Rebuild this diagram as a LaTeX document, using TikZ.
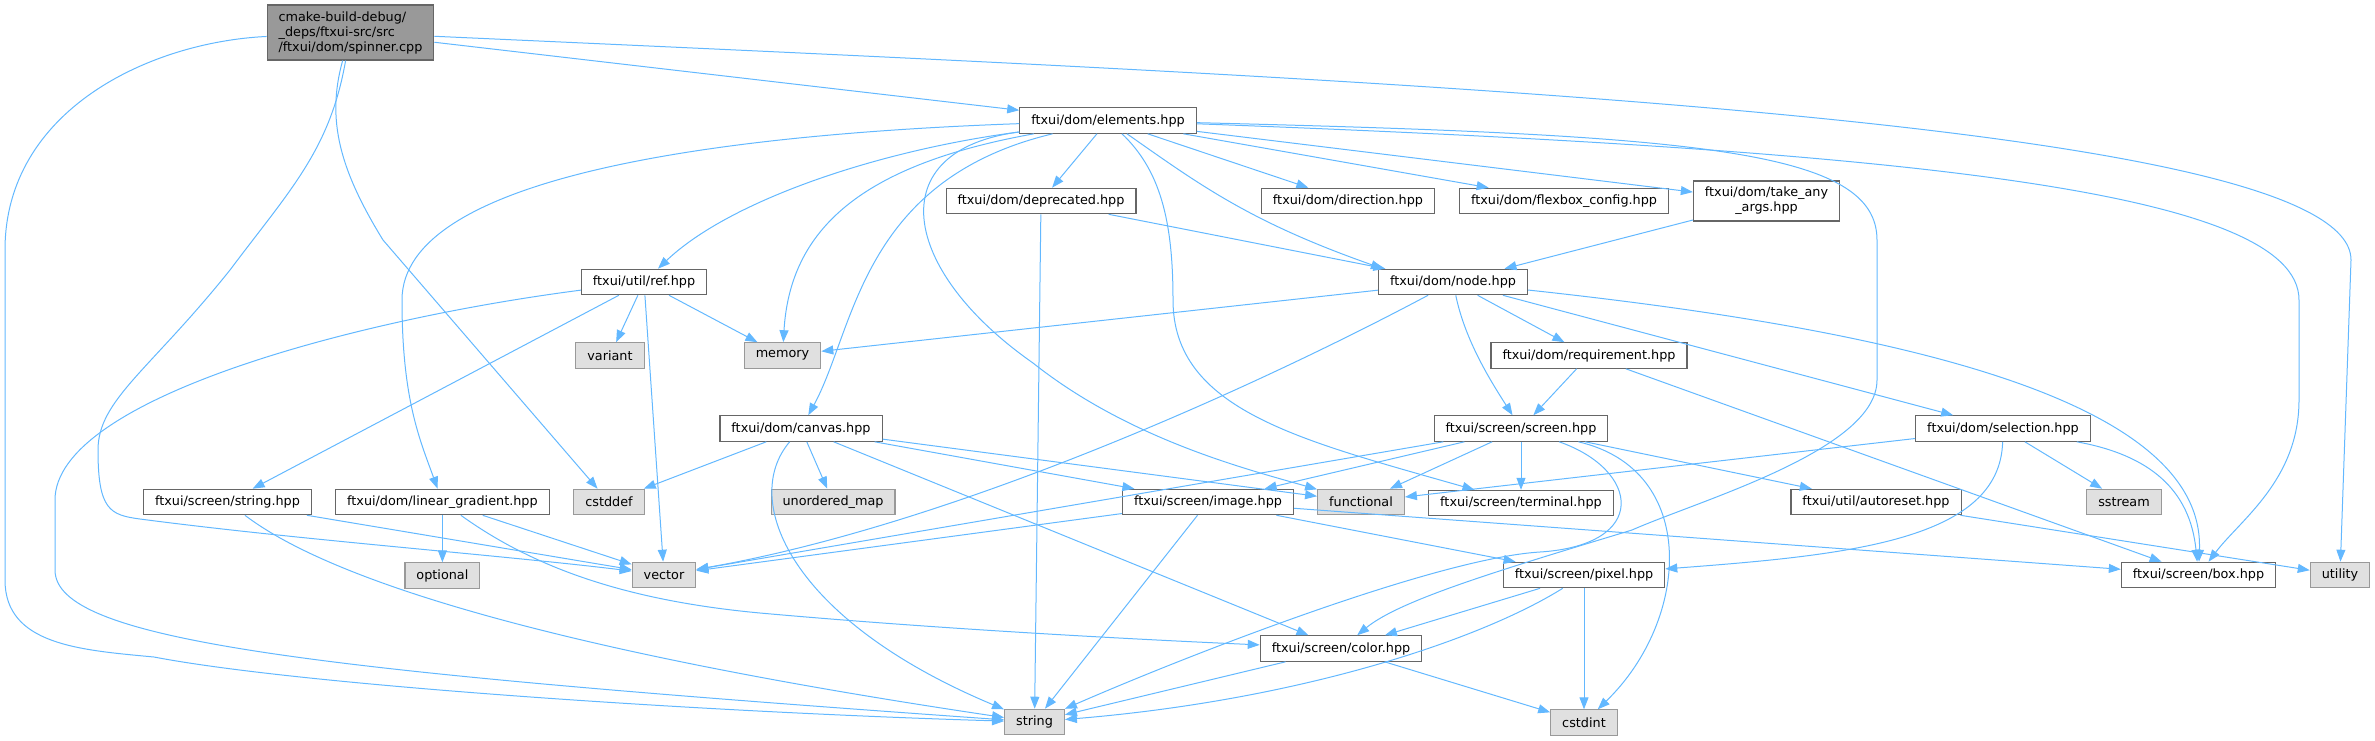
\documentclass[tikz,border=0pt]{standalone}
\usepackage{fontspec}
\usepackage{tikz}
\usetikzlibrary{arrows.meta,positioning}
\newfontfamily\dejavu{DejaVu Sans}
\definecolor{edgeblue}{HTML}{63B8FF}
\definecolor{hdrline}{HTML}{666666}
\definecolor{sysline}{HTML}{999999}
\definecolor{sysfill}{HTML}{E0E0E0}
\definecolor{srcfill}{HTML}{999999}

\begin{document}
\begin{tikzpicture}[
x=1pt, y=-1pt,
hdr/.style={draw=hdrline, fill=white, line width=1.1pt, inner xsep=11.5pt, inner ysep=2pt, minimum height=25.5pt, align=center, font=\dejavu\fontsize{12.8}{15}\selectfont},
sys/.style={hdr, draw=sysline, fill=sysfill},
src/.style={hdr, fill=srcfill, align=left, minimum height=55pt},
arr/.style={-{Triangle[length=12pt, width=9pt]}, draw=edgeblue, line width=1pt}
]
\useasboundingbox (0,0) rectangle (2375,740);

\node[src] (spinner) at (350.5,32.5) {cmake-build-debug/\\\_deps/ftxui-src/src\\/ftxui/dom/spinner.cpp};
\node[hdr] (elements) at (1108,120.5) {ftxui/dom/elements.hpp};

\node[hdr] (deprecated) at (1041,201) {ftxui/dom/deprecated.hpp};
\node[hdr] (direction) at (1348,201) {ftxui/dom/direction.hpp};
\node[hdr] (flexbox) at (1564,201) {ftxui/dom/flexbox\_config.hpp};
\node[hdr, minimum height=40pt] (takeany) at (1766.5,201) {ftxui/dom/take\_any\\\_args.hpp};

\node[hdr] (ref) at (644,282) {ftxui/util/ref.hpp};
\node[hdr] (domnode) at (1453,282) {ftxui/dom/node.hpp};

\node[sys] (variant) at (610,355.5) {variant};
\node[sys] (memory) at (782.5,355.5) {memory};
\node[hdr] (requirement) at (1589,355.5) {ftxui/dom/requirement.hpp};

\node[hdr] (canvas) at (801,428.5) {ftxui/dom/canvas.hpp};
\node[hdr] (screen) at (1521,428.5) {ftxui/screen/screen.hpp};
\node[hdr] (selection) at (2003,428.5) {ftxui/dom/selection.hpp};

\node[hdr] (strh) at (227.5,502) {ftxui/screen/string.hpp};
\node[hdr] (lingrad) at (442.4,502) {ftxui/dom/linear\_gradient.hpp};
\node[sys] (cstddef) at (609,502) {cstddef};
\node[sys] (umap) at (833,502) {unordered\_map};
\node[hdr] (image) at (1208,502) {ftxui/screen/image.hpp};
\node[sys] (functional) at (1361,502) {functional};
\node[hdr, below=48pt of screen] (terminal) {ftxui/screen/terminal.hpp};
\node[hdr] (autoreset) at (1876,502) {ftxui/util/autoreset.hpp};
\node[sys] (sstream) at (2124,502) {sstream};

\node[sys, below=47pt of lingrad] (optional) {optional};
\node[sys] (vector) at (664,575) {vector};
\node[hdr] (pixel) at (1584,575) {ftxui/screen/pixel.hpp};
\node[hdr] (box) at (2198.5,575) {ftxui/screen/box.hpp};
\node[sys] (utility) at (2340,575) {utility};

\node[hdr] (color) at (1341,648.5) {ftxui/screen/color.hpp};
\node[sys] (string) at (1034.5,722) {string};
\node[sys, below=121pt of pixel] (cstdint) {cstdint};

\draw[arr] (spinner) -- (elements);
\draw[arr] (spinner) .. controls (1400,80) and (2351,120) .. (2351,260) -- (utility);
\draw[arr] (spinner) .. controls (150,42) and (5,110) .. (5,250) -- (5,580) .. controls (5,645) and (80,650) .. (154,657) .. controls (300,685) and (700,712) .. (string);
\draw[arr] (spinner) .. controls (330,150) and (290,190) .. (230,270) .. controls (150,370) and (98,400) .. (98,450) .. controls (98,510) and (110,515) .. (140,519) .. controls (300,540) and (500,555) .. (vector);
\draw[arr] (spinner) .. controls (326,120) and (340,170) .. (383,240) -- (cstddef);

\draw[arr] (elements) .. controls (880,150) and (730,200) .. (ref);
\draw[arr] (elements) .. controls (860,165) and (790,230) .. (memory);
\draw[arr] (elements) .. controls (860,180) and (855,330) .. (canvas);
\draw[arr] (elements) .. controls (700,135) and (402,180) .. (402,300) .. controls (402,400) and (420,440) .. (lingrad);
\draw[arr] (elements) -- (deprecated);
\draw[arr] (elements) .. controls (880,150) and (900,270) .. (1033,363) .. controls (1130,440) and (1250,470) .. (functional);
\draw[arr] (elements) -- (direction);
\draw[arr] (elements) -- (flexbox);
\draw[arr] (elements) -- (takeany);
\draw[arr] (elements) .. controls (1200,185) and (1250,222) .. ([xshift=5pt]domnode.north west);
\draw[arr] (elements) .. controls (1160,170) and (1173,220) .. (1173,300) .. controls (1173,410) and (1300,440) .. (terminal);
\draw[arr] (elements) .. controls (1900,150) and (2299,190) .. (2299,300) -- (2299,400) .. controls (2299,480) and (2240,520) .. (box);
\draw[arr] (elements) .. controls (1700,135) and (1877,150) .. (1877,240) -- (1877,380) .. controls (1877,450) and (1700,500) .. (1632,530) .. controls (1500,570) and (1400,600) .. (color);

\draw[arr] (deprecated) -- (domnode);
\draw[arr] (deprecated) -- (string);
\draw[arr] (takeany) -- (domnode);

\draw[arr] (ref) -- (variant);
\draw[arr] (ref) -- (memory);
\draw[arr] (ref) -- (vector);
\draw[arr] (ref) -- (strh);
\draw[arr] (ref) .. controls (350,320) and (55,400) .. (55,500) -- (55,570) .. controls (55,640) and (300,670) .. (string);

\draw[arr] (domnode) -- (memory);
\draw[arr] (domnode) .. controls (1250,390) and (950,525) .. (vector);
\draw[arr] (domnode) -- (requirement);
\draw[arr] (domnode) -- (selection);
\draw[arr] (domnode) .. controls (1900,330) and (2205,400) .. (box);
\draw[arr] (domnode) .. controls (1465,340) and (1490,380) .. (screen);

\draw[arr] (requirement) -- (screen);
\draw[arr] (requirement) -- (box);

\draw[arr] (canvas) -- (cstddef);
\draw[arr] (canvas) .. controls (740,500) and (790,620) .. (string);
\draw[arr] (canvas) -- (umap);
\draw[arr] (canvas) -- (color);
\draw[arr] (canvas) -- (image);
\draw[arr] (canvas) -- (functional);

\draw[arr] (screen) -- (vector);
\draw[arr] (screen) -- (image);
\draw[arr] (screen) -- (functional);
\draw[arr] (screen) -- (terminal);
\draw[arr] (screen) .. controls (1640,470) and (1650,545) .. (1540,552) .. controls (1440,558) and (1200,650) .. (string);
\draw[arr] (screen) -- (autoreset);
\draw[arr] (screen) .. controls (1700,470) and (1690,620) .. (cstdint);

\draw[arr] (selection) -- (functional);
\draw[arr] (selection) .. controls (2000,540) and (1850,555) .. (pixel);
\draw[arr] (selection) -- (sstream);
\draw[arr] (selection) .. controls (2150,455) and (2190,490) .. (box);

\draw[arr] (strh) -- (vector);
\draw[arr] (strh) .. controls (330,580) and (550,650) .. (string);
\draw[arr] (lingrad) -- (optional);
\draw[arr] (lingrad) -- (vector);
\draw[arr] (lingrad) .. controls (530,565) and (620,600) .. (760,613) .. controls (950,630) and (1150,640) .. (color);

\draw[arr] (image) -- (vector);
\draw[arr] (image) -- (string);
\draw[arr] (image) -- (pixel);
\draw[arr] (image) -- (box);

\draw[arr] (pixel) -- (color);
\draw[arr] (pixel) .. controls (1480,640) and (1300,700) .. (string);
\draw[arr] (pixel) -- (cstdint);
\draw[arr] (color) -- (cstdint);
\draw[arr] (color) -- (string);
\draw[arr] (autoreset) -- (utility);

\end{tikzpicture}
\end{document}
